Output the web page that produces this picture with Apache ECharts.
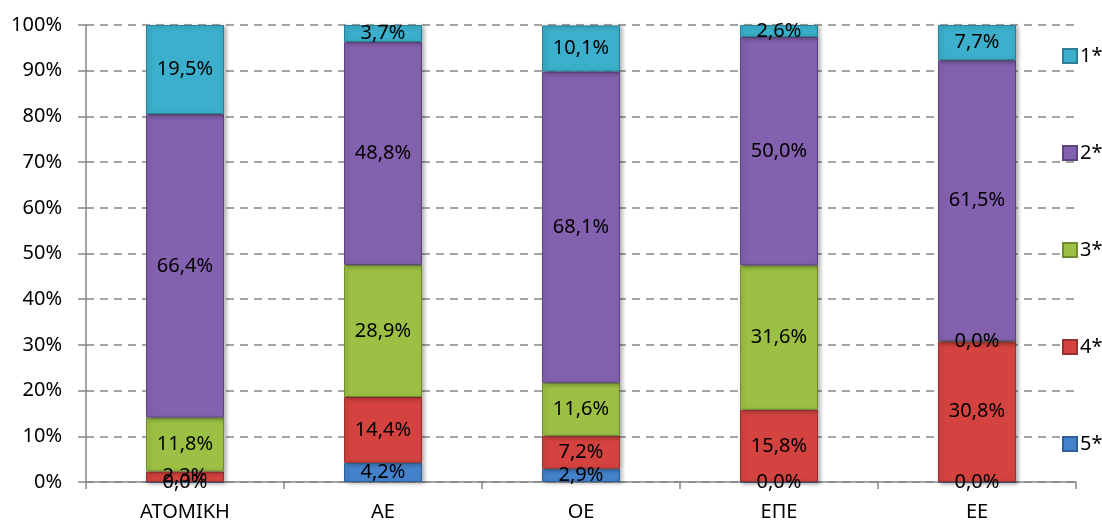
<!DOCTYPE html>
<html>
<head>
<meta charset="utf-8">
<script src="https://cdn.jsdelivr.net/npm/echarts@6/dist/echarts.min.js"></script>
<style>
  html, body { margin: 0; padding: 0; background: #fff; }
  #main { width: 1102px; height: 524px; }
</style>
</head>
<body>
<div id="main"></div>
<script>
// κατηγορίες νομικής μορφής
var categories = ['ΑΤΟΜΙΚΗ', 'ΑΕ', 'ΟΕ', 'ΕΠΕ', 'ΕΕ'];
var yTicks = [0, 10, 20, 30, 40, 50, 60, 70, 80, 90, 100];

// ποσοστά ανά βαθμίδα (%)
var star5 = [0.0, 4.2, 2.9, 0.0, 0.0];
var star4 = [2.3, 14.4, 7.2, 15.8, 30.8];
var star3 = [11.8, 28.9, 11.6, 31.6, 0.0];
var star2 = [66.4, 48.8, 68.1, 50.0, 61.5];
var star1 = [19.5, 3.7, 10.1, 2.6, 7.7];

var seriesNames = ['5*', '4*', '3*', '2*', '1*'];
var seriesData = [star5, star4, star3, star2, star1];
var colors = ['#4483CB', '#D4433F', '#9CC044', '#8461AE', '#3BAFCB'];
var borders = ['#2F5F96', '#973230', '#708B30', '#5D4480', '#2A7F94'];

var FONT = 'Noto Sans';

var chart = echarts.init(document.getElementById('main'));

var series = [];
for (var i = 0; i < seriesNames.length; i++) {
  series.push({
    name: seriesNames[i],
    type: 'bar',
    stack: 'total',
    barWidth: 78,
    data: seriesData[i],
    itemStyle: {
      color: colors[i],
      borderColor: borders[i],
      borderWidth: 1,
      shadowColor: 'rgba(0,0,0,0.3)',
      shadowBlur: 4,
      shadowOffsetX: 2,
      shadowOffsetY: 1
    },
    label: {
      show: true,
      position: 'inside',
      color: '#000',
      fontFamily: FONT,
      fontSize: 20,
      formatter: function (p) {
        return p.value.toFixed(1).replace('.', ',') + '%';
      }
    }
  });
}

var option = {
  animation: false,
  color: colors,
  grid: { left: 86, right: 26, top: 25, bottom: 42 },
  legend: {
    orient: 'vertical',
    left: 1057,
    top: 41,
    itemWidth: 14,
    itemHeight: 14,
    itemGap: 77,
    icon: 'rect',
    data: ['1*', '2*', '3*', '4*', '5*'],
    textStyle: { fontFamily: FONT, fontSize: 20, color: '#000', lineHeight: 20, padding: [0, 0, 0, -2] }
  },
  xAxis: {
    type: 'category',
    data: categories,
    axisLine: { lineStyle: { color: '#868686', width: 1.5 } },
    axisTick: { show: true, length: 7, lineStyle: { color: '#868686', width: 1.5 } },
    axisLabel: { color: '#000', fontFamily: FONT, fontSize: 20, margin: 20 }
  },
  yAxis: {
    type: 'value',
    min: yTicks[0],
    max: yTicks[yTicks.length - 1],
    interval: 10,
    axisLine: { show: true, lineStyle: { color: '#868686', width: 1.5 } },
    axisTick: { show: true, length: 8, lineStyle: { color: '#868686', width: 1.5 } },
    axisLabel: {
      color: '#000', fontFamily: FONT, fontSize: 20, margin: 24,
      formatter: function (v) { return v + '%'; }
    },
    splitLine: { show: true, lineStyle: { color: '#868686', type: [8, 6], width: 1.5 } }
  },
  series: series
};

chart.setOption(option);
</script>
</body>
</html>
